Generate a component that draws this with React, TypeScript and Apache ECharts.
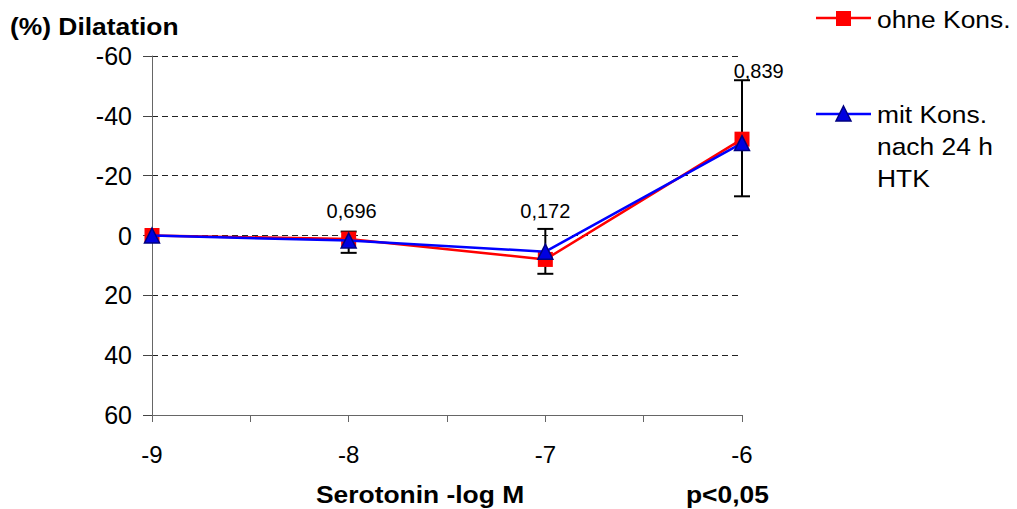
import React, { useEffect, useRef } from "react";
import * as echarts from "echarts";

const xValues = [-9, -8, -7, -6];
const ohneKons = [0, 1.2, 8.0, -32.2];
const mitKons = [0, 1.7, 5.4, -30.9];

const errX = [-8, -7, -6];
const errLow = [-1.3, -2.2, -51.9];
const errHigh = [5.8, 12.8, -13.1];

const pLabels = ["0,696", "0,172", "0,839"];
const pLabelX = [-7.985, -7.0, -5.915];
const pLabelY = [-8.3, -8.3, -55];

const yTicks = [-60, -40, -20, 0, 20, 40, 60];

const FONT = "'Liberation Sans', Arial, sans-serif";
const SX = 1.1;

export default function App() {
  const ref = useRef<HTMLDivElement>(null);
  useEffect(() => {
    document.body.style.margin = "0";
    if (!ref.current) return;
    const chart = echarts.init(ref.current, undefined, { renderer: "svg" });
    const errData = errX.map((x, i) => [x, errLow[i], errHigh[i]]);
    const labData = pLabelX.map((x, i) => [x, pLabelY[i], pLabels[i]]);
    const txt = (text: string, x: number, y: number, bold: boolean, extra: any = {}) => ({
      type: "text",
      x,
      y,
      scaleX: SX,
      style: {
        text,
        fill: "#000",
        font: `${bold ? "bold " : ""}24px ${FONT}`,
        verticalAlign: "middle",
        ...extra,
      },
    });
    chart.setOption({
      animation: false,
      backgroundColor: "#fff",
      textStyle: { fontFamily: FONT },
      grid: { left: 152, right: 275, top: 56, bottom: 94, containLabel: false },
      xAxis: {
        type: "value",
        min: -9,
        max: -6,
        interval: 0.5,
        axisLine: { show: true, onZero: false, lineStyle: { color: "#666", width: 1 } },
        axisTick: { show: true, length: 7, lineStyle: { color: "#666" } },
        splitLine: { show: false },
        axisLabel: {
          margin: 27,
          fontSize: 24,
          color: "#000",
          fontFamily: FONT,
          formatter: (v: number) => (Number.isInteger(v) ? String(v) : ""),
        },
      },
      yAxis: {
        type: "value",
        inverse: true,
        min: yTicks[0],
        max: yTicks[yTicks.length - 1],
        interval: 20,
        axisLine: { show: true, onZero: false, lineStyle: { color: "#666", width: 1 } },
        axisTick: { show: true, length: 9, lineStyle: { color: "#444" } },
        splitLine: { show: true, lineStyle: { color: "#222", type: [6, 4], width: 1 } },
        axisLabel: { margin: 20, fontSize: 25, color: "#000", fontFamily: FONT },
      },
      series: [
        {
          name: "err",
          type: "custom",
          z: 1,
          data: errData,
          encode: { x: 0, y: [1, 2] },
          renderItem: (params: any, api: any) => {
            const x = api.value(0);
            const p1 = api.coord([x, api.value(1)]);
            const p2 = api.coord([x, api.value(2)]);
            const w = 8;
            const st = { stroke: "#000", lineWidth: 2 };
            return {
              type: "group",
              children: [
                { type: "line", shape: { x1: p1[0], y1: p1[1], x2: p2[0], y2: p2[1] }, style: st },
                { type: "line", shape: { x1: p1[0] - w, y1: p1[1], x2: p1[0] + w, y2: p1[1] }, style: st },
                { type: "line", shape: { x1: p2[0] - w, y1: p2[1], x2: p2[0] + w, y2: p2[1] }, style: st },
              ],
            };
          },
        },
        {
          name: "ohne Kons.",
          type: "line",
          z: 3,
          data: xValues.map((x, i) => [x, ohneKons[i]]),
          symbol: "rect",
          symbolSize: 15,
          lineStyle: { color: "#ff0000", width: 2.5 },
          itemStyle: { color: "#ff0000", borderWidth: 0 },
        },
        {
          name: "mit Kons. nach 24 h HTK",
          type: "line",
          z: 4,
          data: xValues.map((x, i) => [x, mitKons[i]]),
          symbol: "triangle",
          symbolSize: 15,
          lineStyle: { color: "#0000ff", width: 2.5 },
          itemStyle: { color: "#0000e0", borderColor: "#000080", borderWidth: 1.5 },
        },
        {
          name: "pvalues",
          type: "custom",
          z: 5,
          data: labData,
          encode: { x: 0, y: 1 },
          renderItem: (params: any, api: any) => {
            const p = api.coord([api.value(0), api.value(1)]);
            return {
              type: "text",
              x: p[0],
              y: p[1],
              style: {
                text: pLabels[params.dataIndex],
                fill: "#000",
                font: `20px ${FONT}`,
                align: "center",
                verticalAlign: "middle",
              },
            };
          },
        },
      ],
      graphic: [
        txt("(%) Dilatation", 10, 26, true),
        txt("Serotonin -log M", 316, 494, true),
        txt("p<0,05", 686, 494, true),
        { type: "line", shape: { x1: 816, y1: 18, x2: 871, y2: 18 }, style: { stroke: "#ff0000", lineWidth: 2.5 } },
        { type: "rect", shape: { x: 836, y: 11, width: 15, height: 15 }, style: { fill: "#ff0000" } },
        txt("ohne Kons.", 877, 19, false),
        { type: "line", shape: { x1: 816, y1: 114, x2: 871, y2: 114 }, style: { stroke: "#0000ff", lineWidth: 2.5 } },
        {
          type: "polygon",
          shape: { points: [[843.5, 106], [851, 121], [836, 121]] },
          style: { fill: "#0000e0", stroke: "#000080", lineWidth: 1.5 },
        },
        txt("mit Kons.\nnach 24 h\nHTK", 877, 98, false, { lineHeight: 32, verticalAlign: "top" }),
      ],
    });
    return () => chart.dispose();
  }, []);
  return <div ref={ref} style={{ width: 1017, height: 509 }} />;
}
